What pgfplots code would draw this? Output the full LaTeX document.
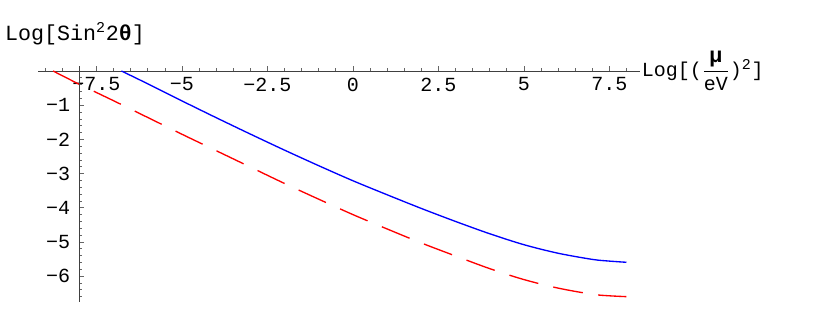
\documentclass[border=0pt]{standalone}
\usepackage{amsmath}
\usepackage{fontspec}
\setmainfont{Liberation Mono}
\usepackage{pgfplots}
\pgfplotsset{compat=1.18}

\begin{document}
\begin{tikzpicture}
\useasboundingbox (-211.8pt,-150pt) rectangle (279.1pt,42.6pt);
\pgfplotsset{
  every axis/.append style={
    x=20.52pt, y=20.52pt,
    at={(0,0)}, anchor=origin,
    ymin=-6.75, ymax=0.16, xmax=8.39,
    clip=false,
    axis line style={-, black!75, line width=0.5pt},
    tick style={black!60, line width=0.4pt},
    major tick length=3pt, minor tick length=1.8pt,
    tick align=inside,
    tick label style={font=\fontsize{12}{14}\selectfont},
    /pgf/number format/assume math mode=true,
  }
}
% x axis and the two curves
\begin{axis}[
  axis x line*=middle, axis y line=none,
  xmin=-9.21,
  xtick={-7.5,-5,-2.5,0,2.5,5,7.5},
  xticklabels={−7.5,−5,−2.5,0,2.5,5,7.5},
  minor xtick={-9,-8.5,-8,-7,-6.5,-6,-5.5,-4.5,-4,-3.5,-3,-2,-1.5,-1,-0.5,0.5,1,1.5,2,3,3.5,4,4.5,5.5,6,6.5,7,8},
  xticklabel style={anchor=north, yshift=-0.5pt},
]
\addplot[blue, line width=0.8pt, smooth] coordinates {
  (-6.77,0) (-6,-0.375) (-5,-0.875) (-4,-1.365) (-3,-1.845) (-2,-2.315)
  (-1,-2.77) (0,-3.21) (1,-3.62) (2,-4.02) (3,-4.40) (4,-4.76)
  (5,-5.08) (6,-5.33) (7,-5.51) (7.5,-5.56) (8,-5.595)
};
\addplot[red, line width=0.8pt, smooth, dash pattern=on 18pt off 9.3pt] coordinates {
  (-8.77,0) (-8,-0.39) (-7,-0.87) (-6,-1.36) (-5,-1.85) (-4,-2.33)
  (-3,-2.81) (-2,-3.29) (-1,-3.75) (0,-4.20) (1,-4.62) (2,-5.03)
  (3,-5.41) (4,-5.78) (5,-6.10) (6,-6.35) (7,-6.53) (7.5,-6.575) (8,-6.60)
};
\node[anchor=base west, inner sep=0pt, font=\fontsize{13}{15}\selectfont]
  at (axis cs:-10.18,0.906) {Log[Sin$^{\mbox{\fontsize{9}{10}\selectfont 2}}$2\textbf{θ}]};
\node[anchor=west, inner sep=1pt, font=\fontsize{12}{14}\selectfont]
  at (axis cs:8.39,0) {Log[($\dfrac{\mbox{\fontsize{13}{14}\selectfont\bfseries μ}}{\mbox{\fontsize{12}{14}\selectfont eV}}$)$^{\mbox{\fontsize{9}{10}\selectfont 2}}$]};
\end{axis}
% y axis, crossing at x = -8
\begin{axis}[
  axis y line*=left, axis x line=none,
  xmin=-8,
  ytick={-6,-5,-4,-3,-2,-1},
  yticklabels={−6,−5,−4,−3,−2,−1},
  minor ytick={-6.6,-6.4,-6.2,-5.8,-5.6,-5.4,-5.2,-4.8,-4.6,-4.4,-4.2,-3.8,-3.6,-3.4,-3.2,-2.8,-2.6,-2.4,-2.2,-1.8,-1.6,-1.4,-1.2,-0.8,-0.6,-0.4,-0.2},
  yticklabel style={anchor=east, xshift=-2pt},
]
\end{axis}
\end{tikzpicture}
\end{document}
